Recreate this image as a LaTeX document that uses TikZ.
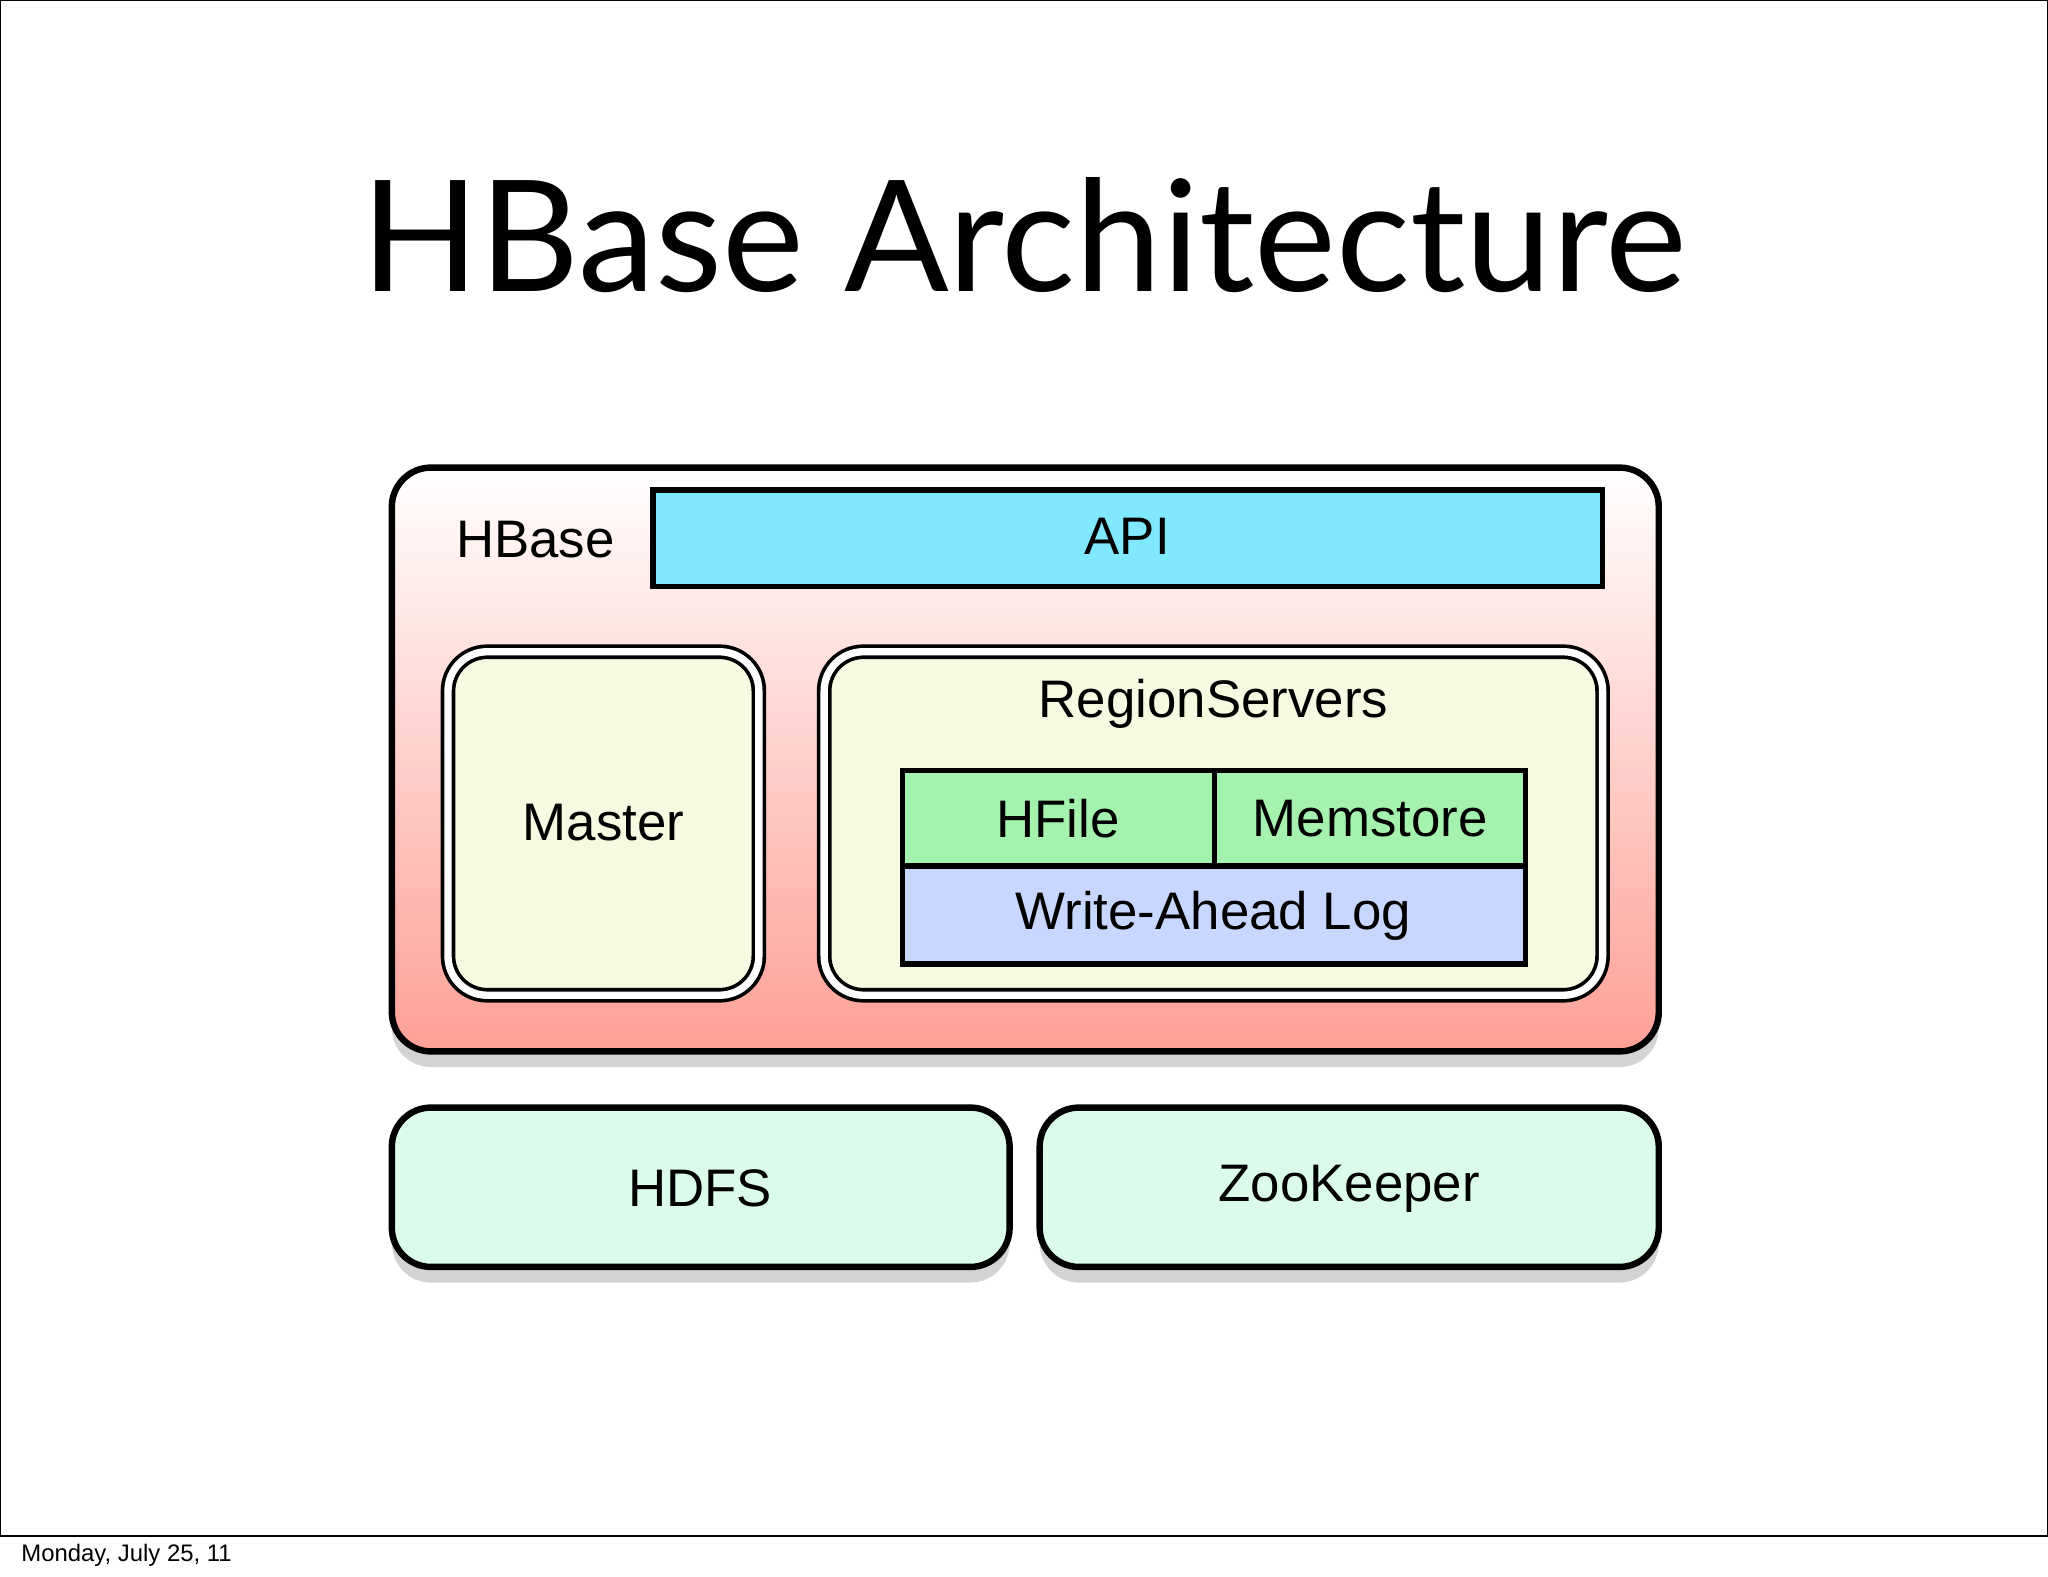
\documentclass[tikz,border=0pt]{standalone}
\usepackage{fontspec}
\setmainfont{Liberation Sans}
\newfontfamily\titlefont{Lato}
\usetikzlibrary{shadows}
\definecolor{salmon}{RGB}{255,160,150}
\definecolor{apicyan}{RGB}{128,232,255}
\definecolor{pale}{RGB}{245,250,225}
\definecolor{hgreen}{RGB}{165,242,175}
\definecolor{walblue}{RGB}{200,215,255}
\definecolor{mint}{RGB}{220,252,235}
\begin{document}
\begin{tikzpicture}[x=0.01cm,y=-0.01cm,
  lbl/.style={font=\fontsize{11.5}{13}\selectfont},
  sq/.style={draw=black,line width=1.2pt},
  dbl/.style={draw=black,double=white,double distance=1.6pt,line width=0.8pt,rounded corners=0.3cm,fill=pale},
  shadowed/.style={drop shadow={shadow xshift=0pt,shadow yshift=-0.12cm,opacity=0.35}},
  outerbox/.style={draw=black,line width=1.4pt,rounded corners=0.3cm}]
\useasboundingbox (0,0) rectangle (1568,1207);
\draw[line width=0.6pt] (0,0) rectangle (1568,1176);
\node[anchor=west,font=\fontsize{5.2}{7}\selectfont] (date) at (4,1191) {Monday, July 25, 11};
\node[font=\titlefont\fontsize{33.7}{40}\selectfont] (title) at (784,180) {HBase Architecture};
% HBase container
\path[shadowed,outerbox,top color=white,bottom color=salmon] (300,358) rectangle (1270,805);
\node[lbl] (hbase) at (410,413) {HBase};
\draw[sq,fill=apicyan] (500,375) rectangle (1227,449);
\node[lbl] (api) at (863,411) {API};
\draw[dbl] (343,499) rectangle (581,762);
\node[lbl] (master) at (462,630) {Master};
\draw[dbl] (631,499) rectangle (1227,762);
\node[lbl] (rs) at (929,539) {RegionServers};
\draw[sq,fill=hgreen] (691,590) rectangle (930,663);
\draw[sq,fill=hgreen] (930,590) rectangle (1168,663);
\draw[sq,fill=walblue] (691,663) rectangle (1168,738);
\node[lbl] (hfile) at (810,627) {HFile};
\node[lbl] (mem) at (1049,627) {Memstore};
\node[lbl] (wal) at (929,701) {Write-Ahead Log};
% bottom boxes
\path[shadowed,outerbox,fill=mint] (300,848) rectangle (773,970);
\node[lbl] (hdfs) at (536,910) {HDFS};
\path[shadowed,outerbox,fill=mint] (796,848) rectangle (1270,970);
\node[lbl] (zk) at (1033,910) {ZooKeeper};
\end{tikzpicture}
\end{document}
